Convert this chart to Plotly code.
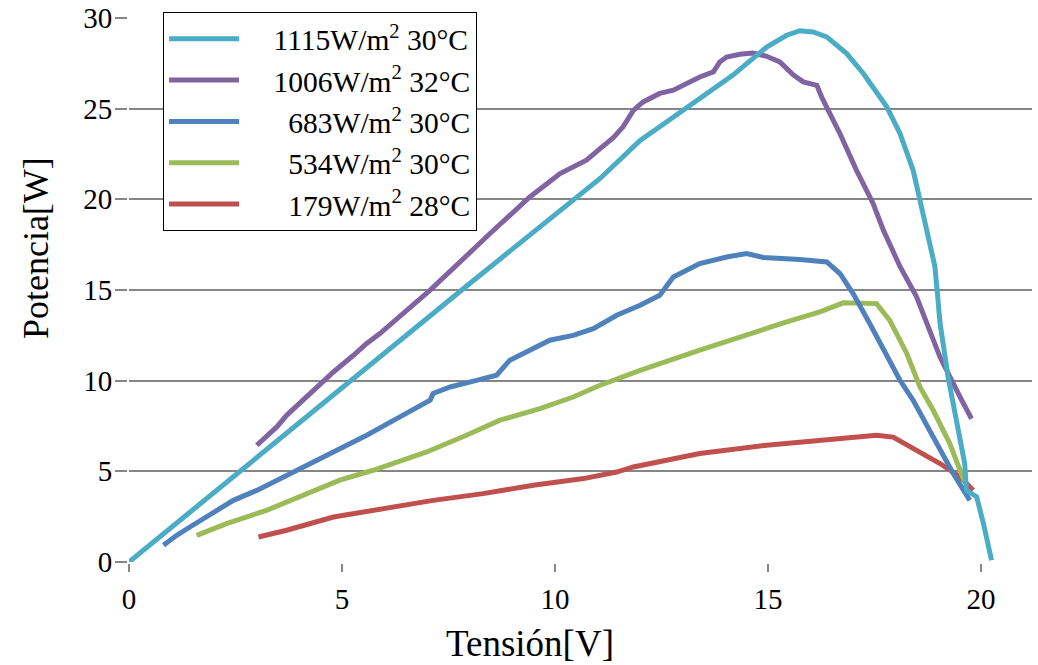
import plotly.graph_objects as go

# ---- data ----
v_1115 = [0, 2.6, 5.23, 8.0, 11.06, 12.0, 12.46, 13.3, 14.18, 14.97, 15.44, 15.75, 16.06, 16.38,
          16.85, 17.24, 17.55, 17.79, 18.1, 18.41, 18.57, 18.76, 18.92, 18.98, 19.04, 19.23, 19.43,
          19.62, 19.66, 19.9, 20.06, 20.25]
p_1115 = [0, 5.0, 10.0, 15.36, 21.15, 23.25, 24.0, 25.4, 26.85, 28.4, 29.05, 29.3, 29.23, 28.96,
          28.04, 26.94, 25.92, 25.1, 23.63, 21.6, 19.95, 18.1, 16.3, 14.8, 13.2, 10.2, 7.6,
          5.43, 3.95, 3.6, 2.12, 0.1]

v_1006 = [3.0, 3.47, 3.7, 4.25, 4.8, 5.27, 5.58, 5.89, 7.07, 8.47, 9.41, 10.12, 10.74, 11.06, 11.37,
          11.6, 11.84, 12.07, 12.46, 12.78, 13.4, 13.72, 13.87, 14.03, 14.34, 14.65, 14.97, 15.28,
          15.6, 15.83, 16.15, 16.26, 16.46, 16.69, 17.08, 17.47, 17.71, 18.1, 18.49, 19.04, 19.51, 19.78]
p_1006 = [6.44, 7.45, 8.09, 9.29, 10.48, 11.4, 12.05, 12.6, 14.99, 18.1, 20.13, 21.42, 22.16, 22.8, 23.4,
          24.0, 24.9, 25.37, 25.84, 26.02, 26.75, 27.03, 27.58, 27.85, 28.0, 28.07, 27.89, 27.58,
          26.85, 26.48, 26.29, 25.65, 24.73, 23.63, 21.6, 19.77, 18.3, 16.3, 14.62, 11.3, 9.1, 7.9]

v_683 = [0.81, 1.12, 1.43, 1.9, 2.45, 3.0, 3.47, 4.01, 4.95, 5.58, 6.36, 7.07, 7.14, 7.54, 8.16, 8.63,
         8.94, 9.34, 9.88, 10.43, 10.9, 11.45, 12.0, 12.46, 12.78, 13.4, 14.03, 14.5, 14.89, 15.75,
         16.38, 16.69, 17.0, 17.39, 17.71, 18.1, 18.41, 18.88, 19.35, 19.74]
p_683 = [0.92, 1.47, 1.93, 2.58, 3.4, 3.95, 4.51, 5.15, 6.25, 6.99, 8.0, 8.92, 9.29, 9.65, 10.02, 10.3,
         11.13, 11.58, 12.23, 12.5, 12.87, 13.61, 14.16, 14.71, 15.72, 16.46, 16.82, 17.01, 16.79, 16.68,
         16.55, 15.91, 14.8, 13.15, 11.68, 10.02, 8.92, 6.89, 4.88, 3.4]

v_534 = [1.59, 2.29, 3.23, 4.01, 4.95, 5.73, 6.99, 7.92, 8.71, 9.65, 10.43, 11.06, 11.45, 12.0, 13.4,
         14.34, 15.44, 16.22, 16.77, 17.55, 17.86, 18.26, 18.57, 18.88, 19.27, 19.54, 19.62]
p_534 = [1.47, 2.12, 2.85, 3.59, 4.51, 5.06, 6.07, 6.99, 7.82, 8.46, 9.1, 9.75, 10.12, 10.57, 11.68,
         12.41, 13.24, 13.79, 14.29, 14.25, 13.33, 11.5, 9.65, 8.37, 6.53, 4.88, 4.4]

v_179 = [3.04, 3.7, 4.8, 5.97, 7.14, 8.31, 9.49, 10.67, 11.45, 11.84, 13.4, 14.97, 16.53, 17.55,
         17.94, 18.49, 19.04, 19.51, 19.82]
p_179 = [1.38, 1.75, 2.48, 2.95, 3.4, 3.77, 4.23, 4.6, 4.96, 5.24, 5.98, 6.44, 6.75, 6.99,
         6.89, 6.16, 5.43, 4.69, 3.95]

NB = "\u00a0"
names = [NB * 4 + "1115W/m<sup>2</sup> 30°C", NB * 4 + "1006W/m<sup>2</sup> 32°C",
         NB * 6 + "683W/m<sup>2</sup> 30°C", NB * 6 + "534W/m<sup>2</sup> 30°C",
         NB * 6 + "179W/m<sup>2</sup> 28°C"]
colors = ["#4BACC6", "#8064A2", "#4F81BD", "#9BBB59", "#C0504D"]
series = [(v_1115, p_1115), (v_1006, p_1006), (v_683, p_683), (v_534, p_534), (v_179, p_179)]

x_ticks = [0, 5, 10, 15, 20]
y_ticks = [0, 5, 10, 15, 20, 25, 30]
x_title = "Tensión[V]"
y_title = "Potencia[W]"

FONT = "Liberation Serif, Times New Roman, serif"

fig = go.Figure()
for i, (v, p) in enumerate(series):
    fig.add_trace(go.Scatter(x=v, y=p, mode="lines", name=names[i],
                             legendgroup=f"g{i}", zorder=len(series) - i,
                             line=dict(color=colors[i], width=5)))

fig.update_layout(
    width=1038, height=665,
    margin=dict(l=129, r=6, t=18, b=103, autoexpand=False),
    paper_bgcolor="white", plot_bgcolor="white",
    font=dict(family=FONT, size=29, color="black"),
    showlegend=True,
    legend=dict(x=0.0377, y=1.011, xanchor="left", yanchor="top",
                bgcolor="white", bordercolor="black", borderwidth=1,
                traceorder="grouped", tracegroupgap=0,
                font=dict(family=FONT, size=29.5, color="black"),
                itemwidth=70),
    xaxis=dict(range=[0, 21.2], tickvals=x_ticks, ticktext=[str(t) for t in x_ticks],
               showgrid=False, zeroline=False, automargin=False,
               showline=True, linecolor="#868686", linewidth=2,
               ticks="outside", ticklen=8, tickwidth=2, tickcolor="#868686",
               ticklabelstandoff=2, tickfont=dict(size=29)),
    yaxis=dict(range=[0, 30], tickvals=y_ticks, ticktext=[str(t) for t in y_ticks],
               showgrid=True, gridcolor="#868686", gridwidth=2, zeroline=False, automargin=False,
               showline=True, linecolor="#868686", linewidth=2,
               ticks="outside", ticklen=12, tickwidth=2, tickcolor="#868686",
               ticklabelstandoff=-3, tickfont=dict(size=29)),
    annotations=[
        dict(text=x_title, xref="paper", yref="paper", x=0.444, y=-0.149,
             xanchor="center", yanchor="middle", showarrow=False,
             font=dict(family=FONT, size=37, color="black")),
        dict(text=y_title, xref="paper", yref="paper", x=-0.103, y=0.577,
             xanchor="center", yanchor="middle", showarrow=False, textangle=-90,
             font=dict(family=FONT, size=36, color="black")),
    ],
)

fig.write_html("out.html", config={"displayModeBar": False},
               post_script="document.body.style.margin='0px';document.body.style.padding='0px';")
